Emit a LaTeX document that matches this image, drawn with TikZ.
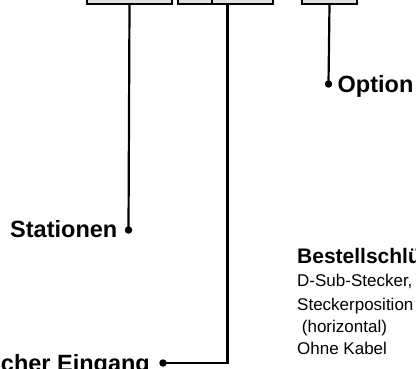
\documentclass[tikz,border=0pt]{standalone}
\usepackage{fontspec}
\setmainfont{Liberation Sans}
\begin{document}
\begin{tikzpicture}[x=1pt,y=-1pt,
  codebox/.style={draw=black,line width=2pt,fill=black!12,inner sep=0pt,anchor=south west},
  wire/.style={line width=2.2pt},
  pin/.style={circle,fill=black,inner sep=0pt,minimum size=7.5pt},
  biglabel/.style={font=\fontsize{23.5}{27}\selectfont\bfseries,inner sep=0pt},
  headlabel/.style={font=\fontsize{21}{24}\selectfont\bfseries,inner sep=0pt,anchor=base west},
  smalllabel/.style={font=\fontsize{17}{20}\selectfont,inner sep=0pt,anchor=base west}]
\useasboundingbox (0,0) rectangle (416,369);
% code boxes at top
\node[codebox,minimum width=85pt,minimum height=30pt] (b1) at (86,5) {};
\node[codebox,minimum width=34pt,minimum height=30pt] (b2a) at (177,5) {};
\node[codebox,minimum width=61pt,minimum height=30pt] (b2b) at (211,5) {};
\node[codebox,minimum width=55pt,minimum height=30pt] (b3) at (301,5) {};
\coordinate (c2) at (227.5,5);
% pins
\node[pin] (p1) at (128.5,230) {};
\node[pin] (p2) at (163,363) {};
\node[pin] (p3) at (328.5,84) {};
% wires
\draw[wire] (b1.south) -- (p1.center);
\draw[wire] (c2) |- (p2.center);
\draw[wire] (b3.south) -- (p3.center);
% labels
\node[biglabel,anchor=base east] (l1) at (117.5,237.5) {Stationen};
\node[biglabel,anchor=base east] (l2) at (150,371) {cher Eingang};
\node[biglabel,anchor=base west] (l3) at (337.5,92.5) {Option};
\node[headlabel] (h) at (297,264) {Bestellschlü};
\node[smalllabel] (s1) at (297,287) {D-Sub-Stecker,};
\node[smalllabel] (s2) at (297,310) {Steckerposition};
\node[smalllabel] (s3) at (297,333) {\ (horizontal)};
\node[smalllabel] (s4) at (297,355) {Ohne Kabel};
\end{tikzpicture}
\end{document}
